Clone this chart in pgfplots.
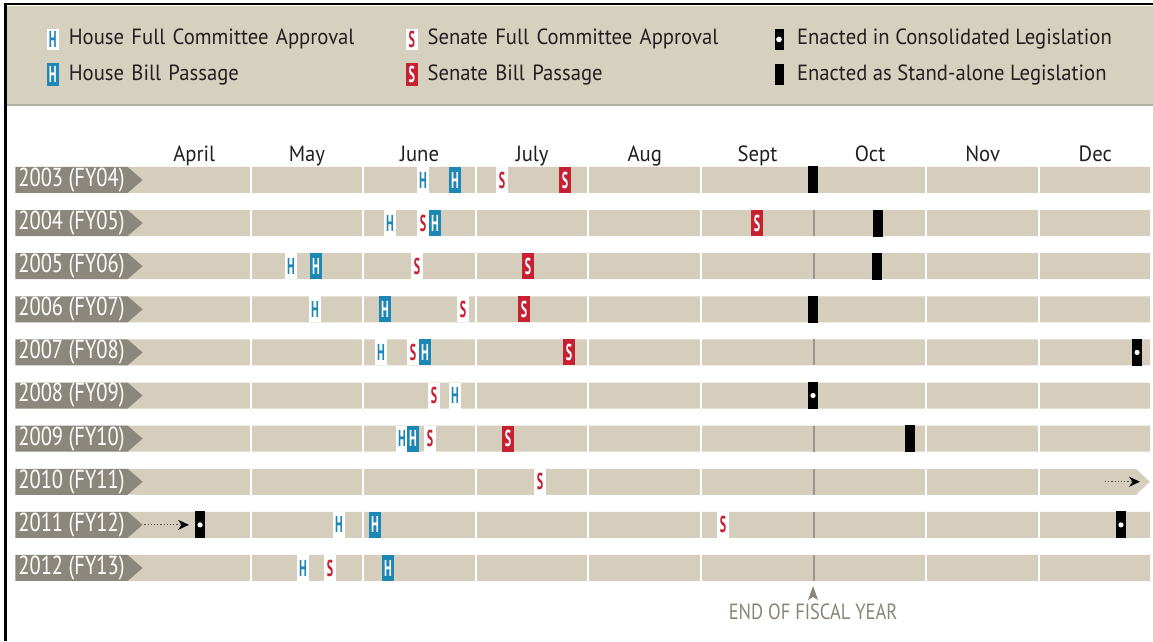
\documentclass[border=0pt]{standalone}
\usepackage{pgfplots}
\pgfplotsset{compat=1.18}
\usepackage{fontspec}
\setmainfont{PT Sans}[FakeStretch=0.94]
\newfontfamily\labfamily{PT Sans}[FakeStretch=0.79]
\newfontfamily\eofyfamily{PT Sans}[FakeStretch=0.84]
\newfontfamily\markfamily{PT Sans}[FakeStretch=0.52]
\usetikzlibrary{shapes.symbols,arrows.meta}

\definecolor{barbeige}{HTML}{D5CEBC}
\definecolor{legbeige}{HTML}{D6D0BF}
\definecolor{labgray}{HTML}{8C877D}
\definecolor{hblue}{HTML}{1C86B6}
\definecolor{sred}{HTML}{C62032}
\definecolor{eofyline}{HTML}{9A958B}
\definecolor{eofytext}{HTML}{8A857B}
\definecolor{txt}{HTML}{231F20}
\definecolor{legline}{HTML}{B3AEA4}

\newcommand\markfont{\markfamily\bfseries\fontsize{11.5}{11.5}\selectfont}
\newcommand\legfont{\fontsize{11}{12}\selectfont}
\newcommand\labfont{\labfamily\fontsize{13}{14}\selectfont}
\newcommand\eofyfont{\eofyfamily\fontsize{11}{12}\selectfont}

\pgfdeclareplotmark{Hc}{\pgfpathrectangle{\pgfpoint{-3pt}{-6.5pt}}{\pgfpoint{6pt}{13pt}}\pgfsetfillcolor{white}\pgfusepath{fill}\pgftext{\markfont\color{hblue}H}}
\pgfdeclareplotmark{Hp}{\pgfpathrectangle{\pgfpoint{-3pt}{-6.5pt}}{\pgfpoint{6pt}{13pt}}\pgfsetfillcolor{hblue}\pgfusepath{fill}\pgftext{\markfont\color{white}H}}
\pgfdeclareplotmark{Sc}{\pgfpathrectangle{\pgfpoint{-3pt}{-6.5pt}}{\pgfpoint{6pt}{13pt}}\pgfsetfillcolor{white}\pgfusepath{fill}\pgftext{\markfont\color{sred}S}}
\pgfdeclareplotmark{Sp}{\pgfpathrectangle{\pgfpoint{-3pt}{-6.5pt}}{\pgfpoint{6pt}{13pt}}\pgfsetfillcolor{sred}\pgfusepath{fill}\pgftext{\markfont\color{white}S}}
\pgfdeclareplotmark{Es}{\pgfpathrectangle{\pgfpoint{-2.5pt}{-6.75pt}}{\pgfpoint{5pt}{13.5pt}}\pgfsetfillcolor{black}\pgfusepath{fill}}
\pgfdeclareplotmark{Ec}{\pgfpathrectangle{\pgfpoint{-2.5pt}{-6.75pt}}{\pgfpoint{5pt}{13.5pt}}\pgfsetfillcolor{black}\pgfusepath{fill}\pgfpathcircle{\pgfpointorigin}{1.3pt}\pgfsetfillcolor{white}\pgfusepath{fill}}

\begin{document}
\begin{tikzpicture}
\begin{axis}[
  width=576.5pt, height=320.5pt, scale only axis,
  xmin=-1.2254, xmax=9.0126, ymin=-0.694, ymax=14.175,
  clip=false, axis on top,
  axis line style={draw=none}, major tick length=0pt, tick style={draw=none},
  xtick={0.5,1.5,2.5,3.5,4.5,5.5,6.5,7.5,8.5},
  xticklabels={April,May,June,July,Aug,Sept,Oct,Nov,Dec},
  xticklabel pos=right,
  xticklabel style={anchor=base, inner sep=0pt, yshift=-81pt, font=\legfont, text=txt},
  ytick={1,2,3,4,5,6,7,8,9,10},
  yticklabels={{2012 (FY13)},{2011 (FY12)},{2010 (FY11)},{2009 (FY10)},{2008 (FY09)},{2007 (FY08)},{2006 (FY07)},{2005 (FY06)},{2004 (FY05)},{2003 (FY04)}},
  yticklabel style={anchor=west, xshift=7.5pt, shape=signal, signal to=east, signal pointer angle=82,
    fill=labgray, text=white, font=\labfont, minimum height=13pt, minimum width=61pt, inner xsep=1.5pt, inner ysep=0pt},
  legend columns=3,
  legend cell align=left,
  legend style={at={(0.04076,0.9548)}, anchor=north west, draw=none, fill=none,
    inner sep=0pt, outer sep=0pt, column sep=5pt, row sep=6.75pt, font=\legfont, text=txt,
    nodes={inner sep=0pt, text height=8pt, text depth=2.5pt},
    /tikz/column 2/.style={nodes={text width=163.5pt}},
    /tikz/column 4/.style={nodes={text width=168.5pt}}},
]
% background, legend band, frame
\fill[white] (axis cs:-1.2254,-0.694) rectangle (axis cs:9.0126,14.175);
\fill[legbeige] (axis cs:-1.163,14.036) rectangle (axis cs:9.0126,11.763);
\draw[legline, line width=1pt] (axis cs:-1.163,11.75) -- (axis cs:9.0126,11.75);
\draw[black, line width=1.5pt] (axis cs:-1.1765,-0.694) -- (axis cs:-1.1765,14.09);
\draw[black, line width=1pt] (axis cs:-1.19,14.071) -- (axis cs:9.0126,14.071);

% beige bars
\addplot[xbar, bar width=0.603, bar shift=0pt, fill=barbeige, draw=none, forget plot]
  coordinates {(8.986,10)(8.986,9)(8.986,8)(8.986,7)(8.986,6)(8.986,5)(8.986,4)(8.986,2)(8.986,1)};
\addplot[xbar, bar width=0.603, bar shift=0pt, fill=barbeige, draw=none, forget plot]
  coordinates {(8.869,3)};
\addplot[xbar, bar width=0.603, bar shift=0pt, fill=barbeige, draw=none, forget plot]
  coordinates {(-0.15,10)(-0.15,9)(-0.15,8)(-0.15,7)(-0.15,6)(-0.15,5)(-0.15,4)(-0.15,3)(-0.15,2)(-0.15,1)};
\addplot[fill=barbeige, draw=none, forget plot] coordinates {(8.86,2.6985)(8.986,3)(8.86,3.3015)} -- cycle;

% month separators
\addplot[white, line width=1pt, forget plot] coordinates {(1,0.6)(1,10.4)};
\addplot[white, line width=1pt, forget plot] coordinates {(2,0.6)(2,10.4)};
\addplot[white, line width=1pt, forget plot] coordinates {(3,0.6)(3,10.4)};
\addplot[white, line width=1pt, forget plot] coordinates {(4,0.6)(4,10.4)};
\addplot[white, line width=1pt, forget plot] coordinates {(5,0.6)(5,10.4)};
\addplot[white, line width=1pt, forget plot] coordinates {(7,0.6)(7,10.4)};
\addplot[white, line width=1pt, forget plot] coordinates {(8,0.6)(8,10.4)};

% end of fiscal year line
\addplot[only marks, mark=|, mark size=6.5pt, mark options={draw=eofyline, line width=0.9pt}, forget plot]
  coordinates {(6,1)(6,2)(6,3)(6,4)(6,5)(6,6)(6,7)(6,8)(6,9)(6,10)};

% events
\addplot[only marks, mark=Hc, legend image code/.code={\fill[white] (-2.75pt,-5pt) rectangle (2.75pt,5pt); \pgftext{\markfont\color{hblue}H}}]
  coordinates {(2.531,10)(2.238,9)(1.359,8)(1.572,7)(2.158,6)(2.815,5)(2.344,4)(1.785,2)(1.465,1)};
\addlegendentry{House Full Committee Approval}
\addplot[only marks, mark=Sc, legend image code/.code={\fill[white] (-2.75pt,-5pt) rectangle (2.75pt,5pt); \pgftext{\markfont\color{sred}S}}]
  coordinates {(3.232,10)(2.531,9)(2.477,8)(2.886,7)(2.442,6)(2.628,5)(2.593,4)(3.570,3)(5.195,2)(1.705,1)};
\addlegendentry{Senate Full Committee Approval}
\addplot[only marks, mark=Ec, legend image code/.code={\fill[black] (-2pt,-5pt) rectangle (2pt,5pt); \fill[white] (0,0) circle (1.2pt);}]
  coordinates {(8.871,6)(5.994,5)(0.551,2)(8.728,2)};
\addlegendentry{Enacted in Consolidated Legislation}
\addplot[only marks, mark=Hp, legend image code/.code={\fill[hblue] (-2.75pt,-5.5pt) rectangle (2.75pt,5.5pt); \pgftext{\markfont\color{white}H}}]
  coordinates {(2.815,10)(2.637,9)(1.581,8)(2.193,7)(2.548,6)(2.442,4)(2.104,2)(2.220,1)};
\addlegendentry{House Bill Passage}
\addplot[only marks, mark=Sp, legend image code/.code={\fill[sred] (-2.75pt,-5.5pt) rectangle (2.75pt,5.5pt); \pgftext{\markfont\color{white}S}}]
  coordinates {(3.792,10)(5.496,9)(3.463,8)(3.427,7)(3.827,6)(3.285,4)};
\addlegendentry{Senate Bill Passage}
\addplot[only marks, mark=Es, legend image code/.code={\fill[black] (-2pt,-5pt) rectangle (2pt,5pt); \path[draw=none,fill=none] (0,0) -- (4pt,0);}]
  coordinates {(5.994,10)(6.571,9)(6.562,8)(5.994,7)(6.855,4)};
\addlegendentry{Enacted as Stand-alone Legislation}

% continuation arrows
\addplot[densely dotted, line width=0.6pt, black!70, -{Stealth[length=5.5pt,width=5pt,black]}, forget plot]
  coordinates {(8.586,3)(8.897,3)};
\addplot[densely dotted, line width=0.6pt, black!70, -{Stealth[length=5.5pt,width=5pt,black]}, forget plot]
  coordinates {(0.0,2)(0.453,2)};

% end of fiscal year pointer
\addplot[fill=eofytext, draw=none, forget plot] coordinates {(5.95,0.257)(5.994,0.582)(6.038,0.257)(5.994,0.327)} -- cycle;
\node[anchor=base, text=eofytext, font=\eofyfont, inner sep=0pt] at (axis cs:5.994,-0.206) {END OF FISCAL YEAR};
\end{axis}
\pgfresetboundingbox
\path[use as bounding box] (current axis.south west) rectangle (current axis.north east);
\end{tikzpicture}
\end{document}
